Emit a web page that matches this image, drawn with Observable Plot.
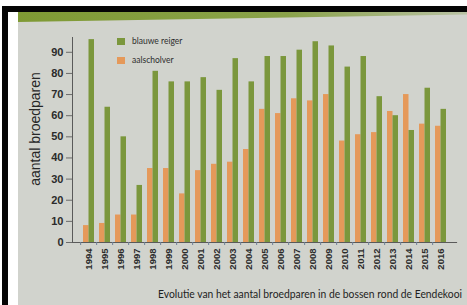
<!DOCTYPE html>
<html>
<head>
<meta charset="utf-8">
<script src="https://cdn.jsdelivr.net/npm/d3@7"></script>
<script src="https://cdn.jsdelivr.net/npm/@observablehq/plot@0.6"></script>
<style>
  html, body { margin: 0; padding: 0; width: 467px; height: 305px; overflow: hidden; background: #ffffff; }
  #page { position: absolute; left: 0; top: 0; width: 467px; height: 305px; }
  #topblack { position: absolute; left: 2px; top: 6px; width: 465px; height: 6px; background: #050505; }
  #leftblack { position: absolute; left: 2px; top: 6px; width: 6px; height: 299px; background: #050505; }
  #panel { position: absolute; left: 18px; top: 12px; width: 449px; height: 293px; background: #d1d3cd; }
  #band { position: absolute; left: 18px; top: 12px; width: 449px; height: 10px; background: linear-gradient(90deg, #7f9a34, #8aa24a 60%, #b9c2a4 100%);
          clip-path: polygon(0 0, 100% 0, 100% 25%, 0 100%); }
  #chart { position: absolute; left: 18px; top: 22px; }
  #ylabel { position: absolute; left: 35px; top: 129px; transform: translate(-50%, -50%) rotate(-90deg);
            font: 14px "Liberation Sans", Arial, sans-serif; color: #262626; white-space: nowrap; }
  .leg { position: absolute; font: 8.5px Lato, "DejaVu Sans", sans-serif; color: #2e2e2e; white-space: nowrap; }
  .sw { position: absolute; width: 8px; height: 7px; }
  #caption { position: absolute; left: 158px; top: 288px; font: 10.5px Lato, "Open Sans", sans-serif; color: #1e1e1e; white-space: nowrap; transform-origin: 0 0; }
</style>
</head>
<body>
<div id="page">
  <div id="topblack"></div>
  <div id="leftblack"></div>
  <div id="panel"></div>
  <div id="band"></div>
  <div id="chart"></div>
  <div id="ylabel">aantal broedparen</div>
  <div class="sw" id="sw1"></div><div class="leg" id="lg1"></div>
  <div class="sw" id="sw2"></div><div class="leg" id="lg2"></div>
  <div id="caption"></div>
</div>
<script>
const years = ["1994","1995","1996","1997","1998","1999","2000","2001","2002","2003","2004","2005",
               "2006","2007","2008","2009","2010","2011","2012","2013","2014","2015","2016"];
const blauweReiger = [96, 64, 50, 27, 81, 76, 76, 78, 72, 87, 76, 88, 88, 91, 95, 93, 83, 88, 69, 60, 53, 73, 63];
const aalscholver  = [8, 9, 13, 13, 35, 35, 23, 34, 37, 38, 44, 63, 61, 68, 67, 70, 48, 51, 52, 62, 70, 56, 55];
const yTicks = [0, 10, 20, 30, 40, 50, 60, 70, 80, 90];
const seriesNames = ["blauwe reiger", "aalscholver"];
const seriesColors = ["#7b973c", "#e5995a"];
const captionText = "Evolutie van het aantal broedparen in de bossen rond de Eendekooi";

const rows = years.map((y, i) => ({year: y, reiger: blauweReiger[i], aal: aalscholver[i]}));

const W = 449, H = 283, ML = 54, MR = 11, MT = 15, MB = 63;
const padInner = 0.34;
const step = (W - ML - MR) / years.length;
const bw = step * (1 - padInner);

const chart = Plot.plot({
  width: W, height: H,
  marginLeft: ML, marginRight: MR, marginTop: MT, marginBottom: MB,
  style: {background: "transparent", fontFamily: "'Liberation Sans', Arial, sans-serif", color: "#2b2b2b"},
  x: {domain: years, paddingInner: padInner, paddingOuter: padInner / 2},
  y: {domain: [0, 97]},
  marks: [
    Plot.barY(rows, {x: "year", y: "aal", fill: seriesColors[1], insetRight: bw / 2}),
    Plot.barY(rows, {x: "year", y: "reiger", fill: seriesColors[0], insetLeft: bw / 2}),
    Plot.frame({anchor: "left", stroke: "#5a5a5a", strokeWidth: 1}),
    Plot.frame({anchor: "bottom", stroke: "#5a5a5a", strokeWidth: 1.2}),
    Plot.axisY({ticks: yTicks, tickSize: 6, tickPadding: 3, label: null, fontSize: 11, fontWeight: "bold", stroke: "#6a6a6a"}),
    Plot.axisX({tickSize: 3, tickFormat: () => "", dx: -step / 2, label: null, stroke: "#6d7f99"}),
    Plot.axisX({tickSize: 0, tickPadding: 6, tickRotate: -90, label: null, fontSize: 9.5, fontWeight: "bold"})
  ]
});
document.getElementById("chart").appendChild(chart);

const sw1 = document.getElementById("sw1"), sw2 = document.getElementById("sw2");
sw1.style.cssText += `left:117px;top:38px;background:${seriesColors[0]};`;
sw2.style.cssText += `left:117px;top:57px;background:${seriesColors[1]};`;
const lg1 = document.getElementById("lg1"), lg2 = document.getElementById("lg2");
lg1.textContent = seriesNames[0]; lg1.style.cssText += "left:132px;top:36px;";
lg2.textContent = seriesNames[1]; lg2.style.cssText += "left:132px;top:55px;";
const cap = document.getElementById("caption");
cap.textContent = captionText;
const cw = cap.getBoundingClientRect().width;
cap.style.transform = `scaleX(${304 / cw})`;
</script>
</body>
</html>
